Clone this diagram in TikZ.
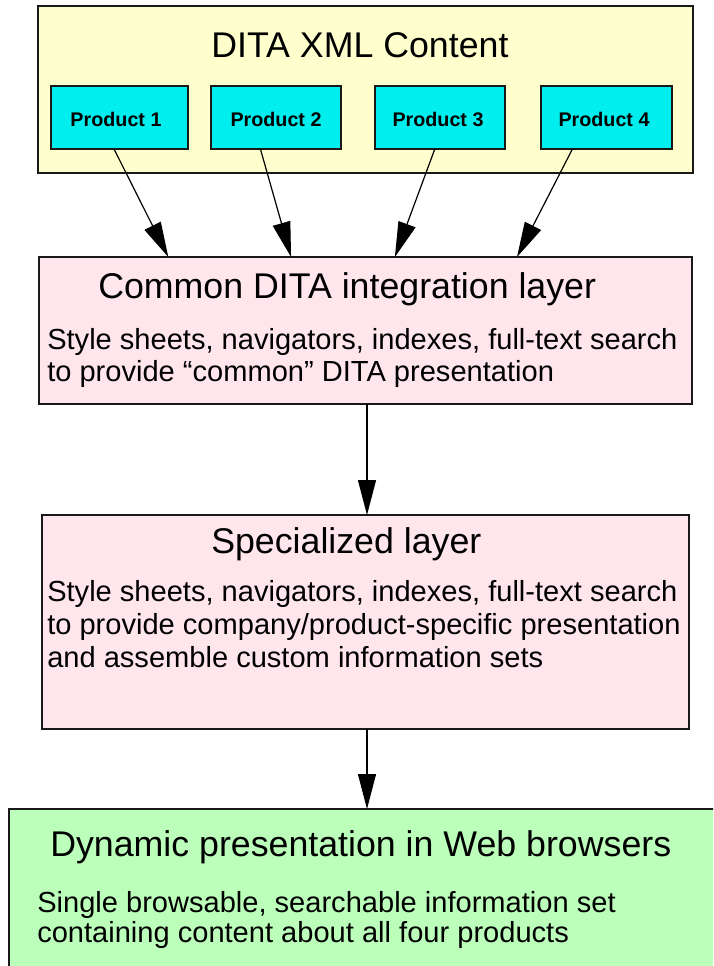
\documentclass[tikz,border=0pt]{standalone}
\usepackage{fontspec}
\setmainfont{Liberation Sans}
\usetikzlibrary{arrows.meta,calc}
\definecolor{ylw}{RGB}{255,255,206}
\definecolor{cyn}{RGB}{0,238,238}
\definecolor{pnk}{RGB}{255,230,236}
\definecolor{grn}{RGB}{187,255,187}
\tikzset{
  box/.style={draw=black!90, line width=1.125pt, inner sep=0pt, outer sep=0pt, anchor=north west},
  titletext/.style={anchor=base west, inner sep=0pt, font=\fontsize{26.8pt}{30pt}\selectfont},
  bodytext/.style={anchor=base west, inner sep=0pt, font=\fontsize{21.8pt}{24pt}\selectfont},
  prodtext/.style={anchor=base, inner sep=0pt, font=\bfseries\fontsize{14.8pt}{17pt}\selectfont},
  conn/.style={draw=black, line width=0.9pt, -{Triangle[length=26.25pt, width=13.5pt]}, shorten >=0pt}
}
\begin{document}
\begin{tikzpicture}[x=0.75pt, y=-0.75pt]
\useasboundingbox (0,0) rectangle (713,966);
\clip (0,0) rectangle (713,966);
% outer content box
\node[box, fill=ylw, minimum width={655*0.75pt}, minimum height={167*0.75pt}] (dita) at (38,6) {};
\node[titletext] (ditat) at (211,58) {DITA XML Content};
% products
\node[box, fill=cyn, minimum width={137*0.75pt}, minimum height={63*0.75pt}] (p1) at (51,86) {};
\node[box, fill=cyn, minimum width={130*0.75pt}, minimum height={63*0.75pt}] (p2) at (211,86) {};
\node[box, fill=cyn, minimum width={130*0.75pt}, minimum height={63*0.75pt}] (p3) at (375,86) {};
\node[box, fill=cyn, minimum width={131*0.75pt}, minimum height={63*0.75pt}] (p4) at (541,86) {};
\node[prodtext] (p1t) at (116,127) {Product 1};
\node[prodtext] (p2t) at (276,127) {Product 2};
\node[prodtext] (p3t) at (438,127) {Product 3};
\node[prodtext] (p4t) at (604,127) {Product 4};
% common layer
\node[box, fill=pnk, minimum width={653*0.75pt}, minimum height={147*0.75pt}] (common) at (39,257) {};
\node[titletext] (commont) at (98,298) {Common DITA integration layer};
\node[bodytext] (commonb1) at (47,349) {Style sheets, navigators, indexes, full-text search};
\node[bodytext] (commonb2) at (47,381) {to provide “common” DITA presentation};
% specialized layer
\node[box, fill=pnk, minimum width={647*0.75pt}, minimum height={214*0.75pt}] (spec) at (42,515) {};
\node[titletext] (spect) at (211,553) {Specialized layer};
\node[bodytext] (specb1) at (47,601) {Style sheets, navigators, indexes, full-text search};
\node[bodytext] (specb2) at (47,634) {to provide company/product-specific presentation};
\node[bodytext] (specb3) at (47,667) {and assemble custom information sets};
% web
\node[box, fill=grn, minimum width={720*0.75pt}, minimum height={170*0.75pt}] (web) at (9,809) {};
\node[titletext] (webt) at (50,856) {Dynamic presentation in Web browsers};
\node[bodytext] (webb1) at (37,912) {Single browsable, searchable information set};
\node[bodytext] (webb2) at (37,942) {containing content about all four products};
% connectors
\draw[conn] ($(p1.south west)!0.46!(p1.south east)$) -- ($(common.north west)!0.198!(common.north east)$);
\draw[conn] ($(p2.south west)!0.38!(p2.south east)$) -- ($(common.north west)!0.386!(common.north east)$);
\draw[conn] ($(p3.south west)!0.46!(p3.south east)$) -- ($(common.north west)!0.545!(common.north east)$);
\draw[conn] ($(p4.south west)!0.24!(p4.south east)$) -- ($(common.north west)!0.732!(common.north east)$);
\draw[conn] (common.south -| 367,0) -- (spec.north -| 367,0);
\draw[conn] (spec.south -| 367,0) -- (web.north -| 367,0);
\end{tikzpicture}
\end{document}
